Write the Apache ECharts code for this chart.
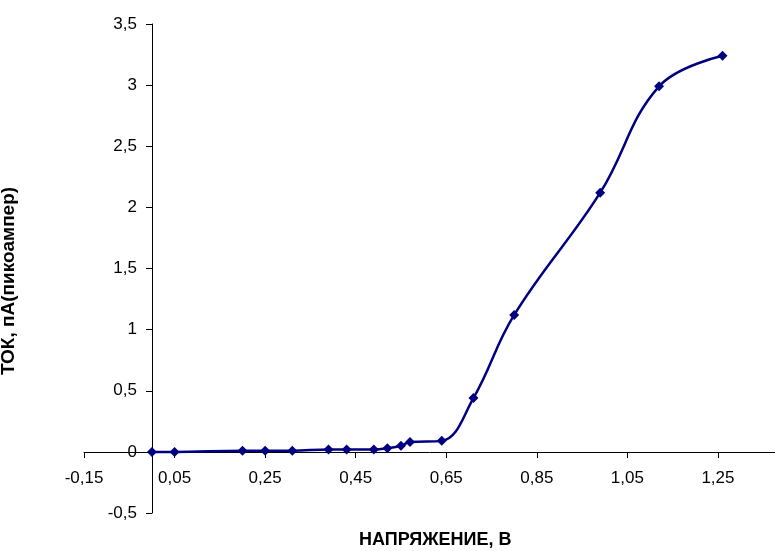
<!DOCTYPE html>
<html>
<head>
<meta charset="utf-8">
<script src="https://cdn.jsdelivr.net/npm/echarts@6/dist/echarts.min.js"></script>
<style>
    html, body { margin: 0; padding: 0; background: #fff; }
    #chart { width: 775px; height: 551px; }
</style>
</head>
<body>
<div id="chart"></div>
<script>
// напряжение, В
const voltage = [0, 0.05, 0.2, 0.25, 0.31, 0.39, 0.43, 0.49, 0.52, 0.55, 0.57, 0.64, 0.71, 0.8, 0.99, 1.12, 1.26]
// ток, пА
const current = [0, 0, 0.01, 0.01, 0.01, 0.02, 0.02, 0.02, 0.03, 0.05, 0.08, 0.09, 0.44, 1.12, 2.12, 2.99, 3.24]

const xTitle = 'НАПРЯЖЕНИЕ, В'
const yTitle = 'ТОК, пА(пикоампер)'

const comma = v => String(v).replace('.', ',')

const chart = echarts.init(document.getElementById('chart'))
chart.setOption({
    animation: false,
    textStyle: { fontFamily: 'Liberation Sans, Arial, sans-serif' },
    grid: { left: 84, right: 0, top: 24, bottom: 38 },
    xAxis: {
        type: 'value',
        min: -0.15,
        max: 1.376,
        interval: 0.2,
        // ось проходит через y = 0
        offset: -61,
        splitLine: { show: false },
        axisLine: { onZero: false, lineStyle: { color: '#000', width: 1 } },
        axisTick: { length: 6, lineStyle: { color: '#000' } },
        axisLabel: {
            color: '#000',
            fontSize: 17,
            margin: 18,
            showMaxLabel: false,
            formatter: v => v.toFixed(2).replace('.', ',')
        }
    },
    yAxis: {
        type: 'value',
        min: -0.5,
        max: 3.5,
        interval: 0.5,
        // ось проходит через x = 0
        offset: -68,
        splitLine: { show: false },
        axisLine: { onZero: false, lineStyle: { color: '#000', width: 1 } },
        axisTick: { length: 6, lineStyle: { color: '#000' } },
        axisLabel: {
            color: '#000',
            fontSize: 17,
            margin: 15,
            formatter: v => comma(+v.toFixed(1))
        }
    },
    series: [{
        type: 'line',
        data: voltage.map((v, i) => [v, current[i]]),
        smooth: 0.4,
        symbol: 'diamond',
        symbolSize: 10,
        lineStyle: { color: '#000080', width: 2.5 },
        itemStyle: { color: '#000080' }
    }],
    graphic: [
        {
            type: 'text',
            left: 359,
            top: 531,
            style: { text: xTitle, font: 'bold 18px Liberation Sans, Arial, sans-serif', fill: '#000' }
        },
        {
            type: 'text',
            x: 9,
            y: 281,
            rotation: Math.PI / 2,
            style: {
                text: yTitle,
                font: 'bold 19px Liberation Sans, Arial, sans-serif',
                fill: '#000',
                align: 'center',
                verticalAlign: 'middle'
            }
        }
    ]
})
</script>
</body>
</html>
